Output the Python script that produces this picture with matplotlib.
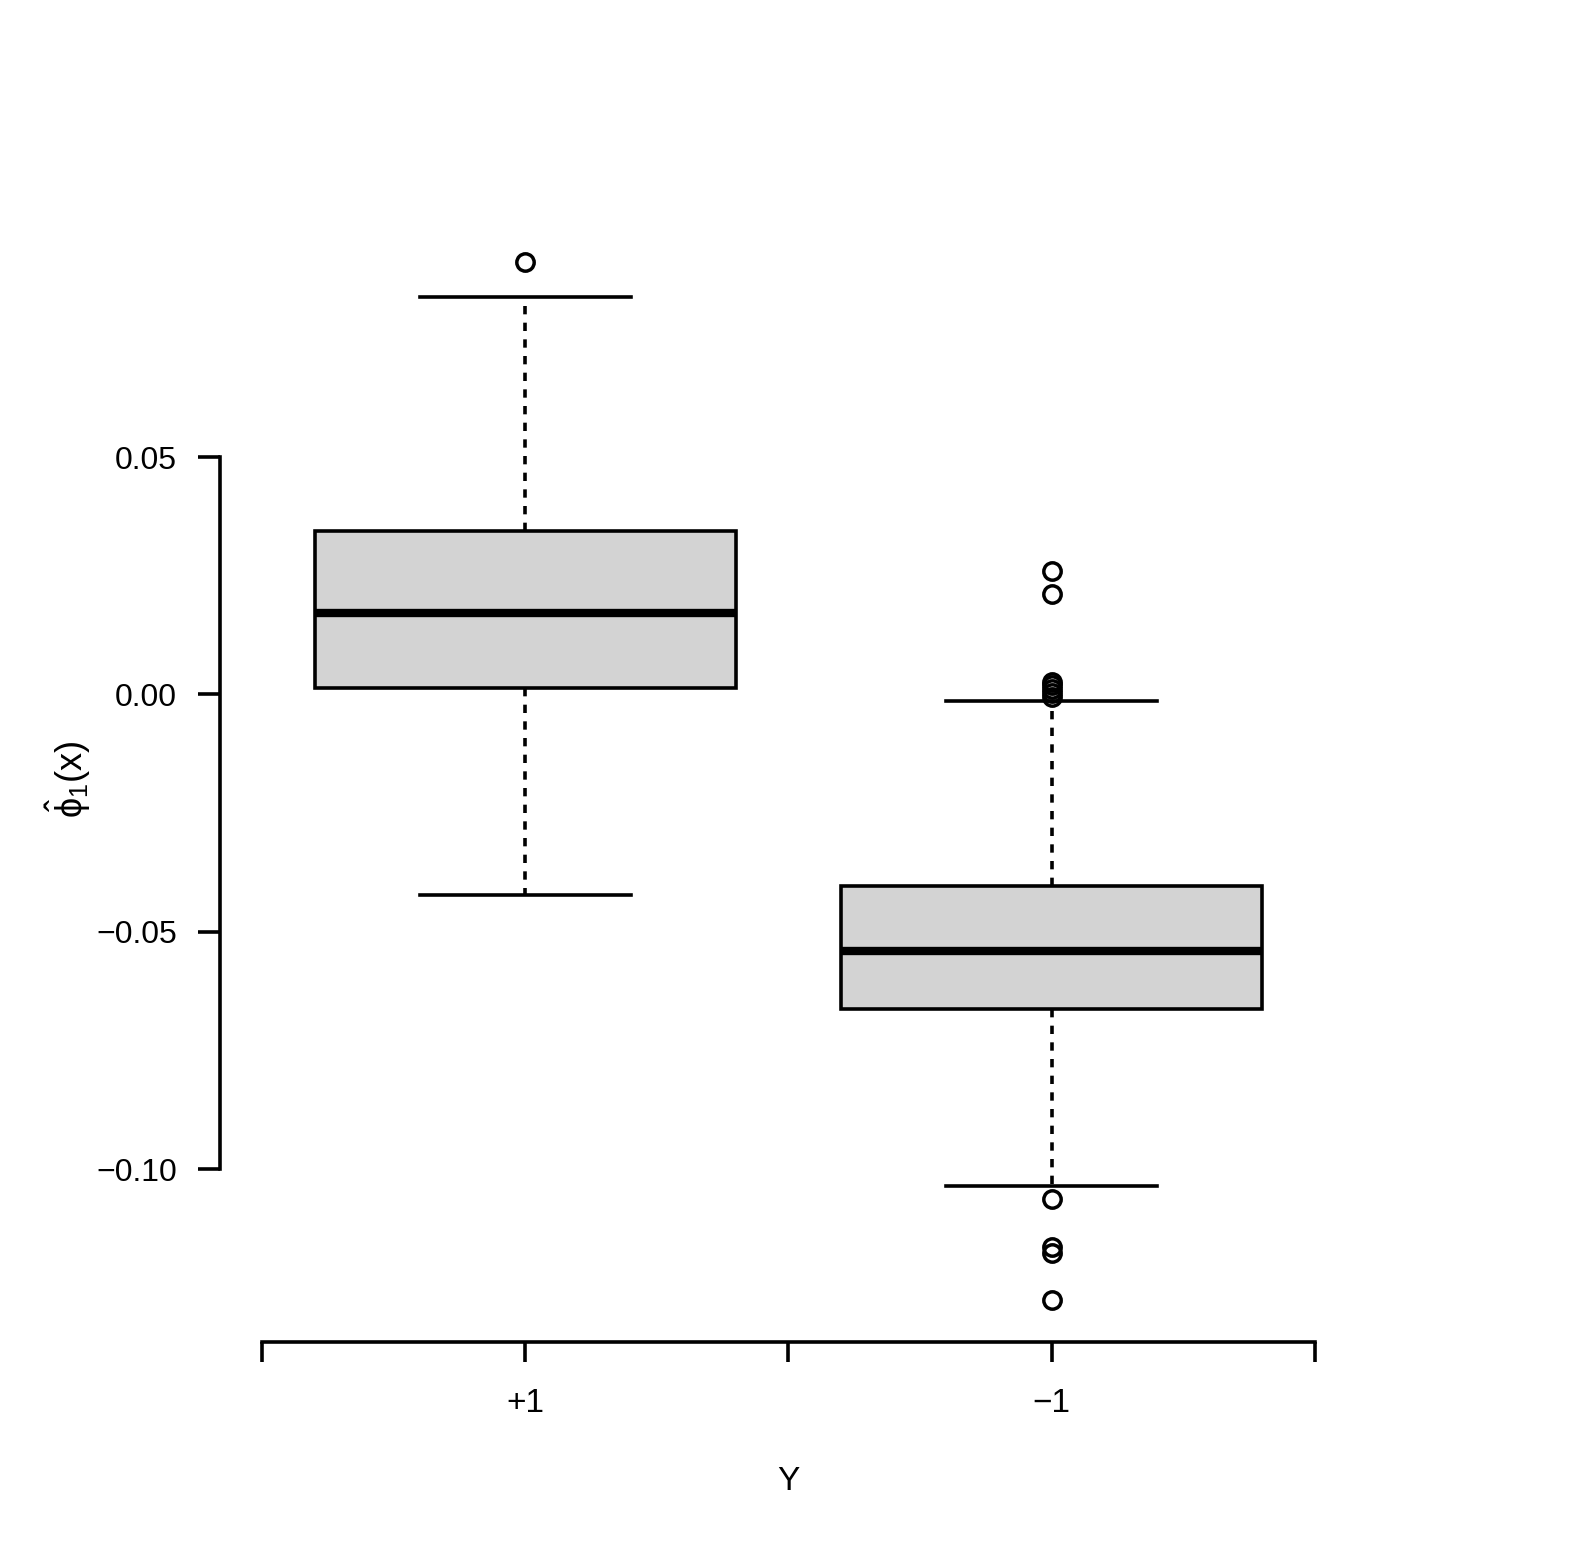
import matplotlib
matplotlib.use("Agg")
import matplotlib.pyplot as plt
import numpy as np

plt.rcParams['font.family'] = ['Liberation Sans', 'DejaVu Sans']
plt.rcParams['mathtext.fontset'] = 'custom'
plt.rcParams['mathtext.rm'] = 'Liberation Sans'
plt.rcParams['mathtext.it'] = 'Liberation Sans'
plt.rcParams['mathtext.bf'] = 'Liberation Sans:bold'
plt.rcParams['lines.scale_dashes'] = False

# ---- data ----
groups = ["+1", "\u22121"]
q1 = [0.00126, -0.0663]
medians = [0.01719, -0.05408]
q3 = [0.03434, -0.04038]
whisker_low = [-0.04213, -0.1035]
whisker_high = [0.0838, -0.00141]
outliers_pos = [0.0911]
outliers_neg = [0.02604, 0.0212, 0.0027, 0.0020, 0.0011, 0.0003, -0.0006,
                -0.1063, -0.1164, -0.1176, -0.1276]
x_tick_positions = [0.5, 1.0, 1.5, 2.0, 2.5]
x_tick_labels = ["", "+1", "", "\u22121", ""]
y_ticks = [-0.10, -0.05, 0.00, 0.05]
y_tick_labels = ["\u22120.10", "\u22120.05", "0.00", "0.05"]

fliers = [outliers_pos, outliers_neg]
stats = []
for i, g in enumerate(groups):
    stats.append(dict(label=g, q1=q1[i], med=medians[i], q3=q3[i],
                      whislo=whisker_low[i], whishi=whisker_high[i],
                      fliers=np.array(fliers[i])))

W, H = 1578, 1562
fig = plt.figure(figsize=(W / 100, H / 100), dpi=100)
ax = fig.add_axes([219.9 / W, 1 - 1342 / H, (1357 - 219.9) / W, (1342 - 220.3) / H])

lw = 2.6
ax.bxp(stats, positions=[1, 2], widths=0.8, capwidths=0.4, patch_artist=True,
       boxprops=dict(facecolor='#d3d3d3', edgecolor='black', linewidth=lw),
       medianprops=dict(color='black', linewidth=6.0, solid_capstyle='butt'),
       whiskerprops=dict(color='black', linewidth=lw, linestyle=(0, (6, 6))),
       capprops=dict(color='black', linewidth=lw),
       flierprops=dict(marker='o', markerfacecolor='none', markeredgecolor='black',
                       markersize=12.5, markeredgewidth=2.5, linestyle='none'),
       manage_ticks=False)

allvals = np.concatenate([np.array(whisker_low), np.array(whisker_high),
                          np.array(outliers_pos), np.array(outliers_neg)])
lo, hi = allvals.min(), allvals.max()
pad = 0.04 * (hi - lo)
ax.set_ylim(lo - pad, hi + pad)
ax.set_xlim(0.42, 2.58)

for s in ['top', 'right']:
    ax.spines[s].set_visible(False)
for s in ['left', 'bottom']:
    ax.spines[s].set_linewidth(lw)
    ax.spines[s].set_capstyle('projecting')
ax.spines['left'].set_bounds(min(y_ticks), max(y_ticks))
ax.spines['bottom'].set_bounds(min(x_tick_positions), max(x_tick_positions))

ax.set_yticks(y_ticks)
ax.set_yticklabels(y_tick_labels)
ax.set_xticks(x_tick_positions)
ax.set_xticklabels(x_tick_labels)
ax.tick_params(axis='y', direction='out', length=15.8, width=lw, pad=15.3, labelsize=23)
ax.tick_params(axis='x', direction='out', length=14.4, width=lw, pad=19.0, labelsize=24)

fig.text(788.5 / W, 1 - 1481 / H, "Y", ha='center', va='center', fontsize=24)
fig.text(68 / W, 1 - 779 / H, r'$\hat{\phi}_{1}(\mathrm{x})$', rotation=90,
         ha='center', va='center', fontsize=26)

fig.savefig("out.png", dpi=100)
